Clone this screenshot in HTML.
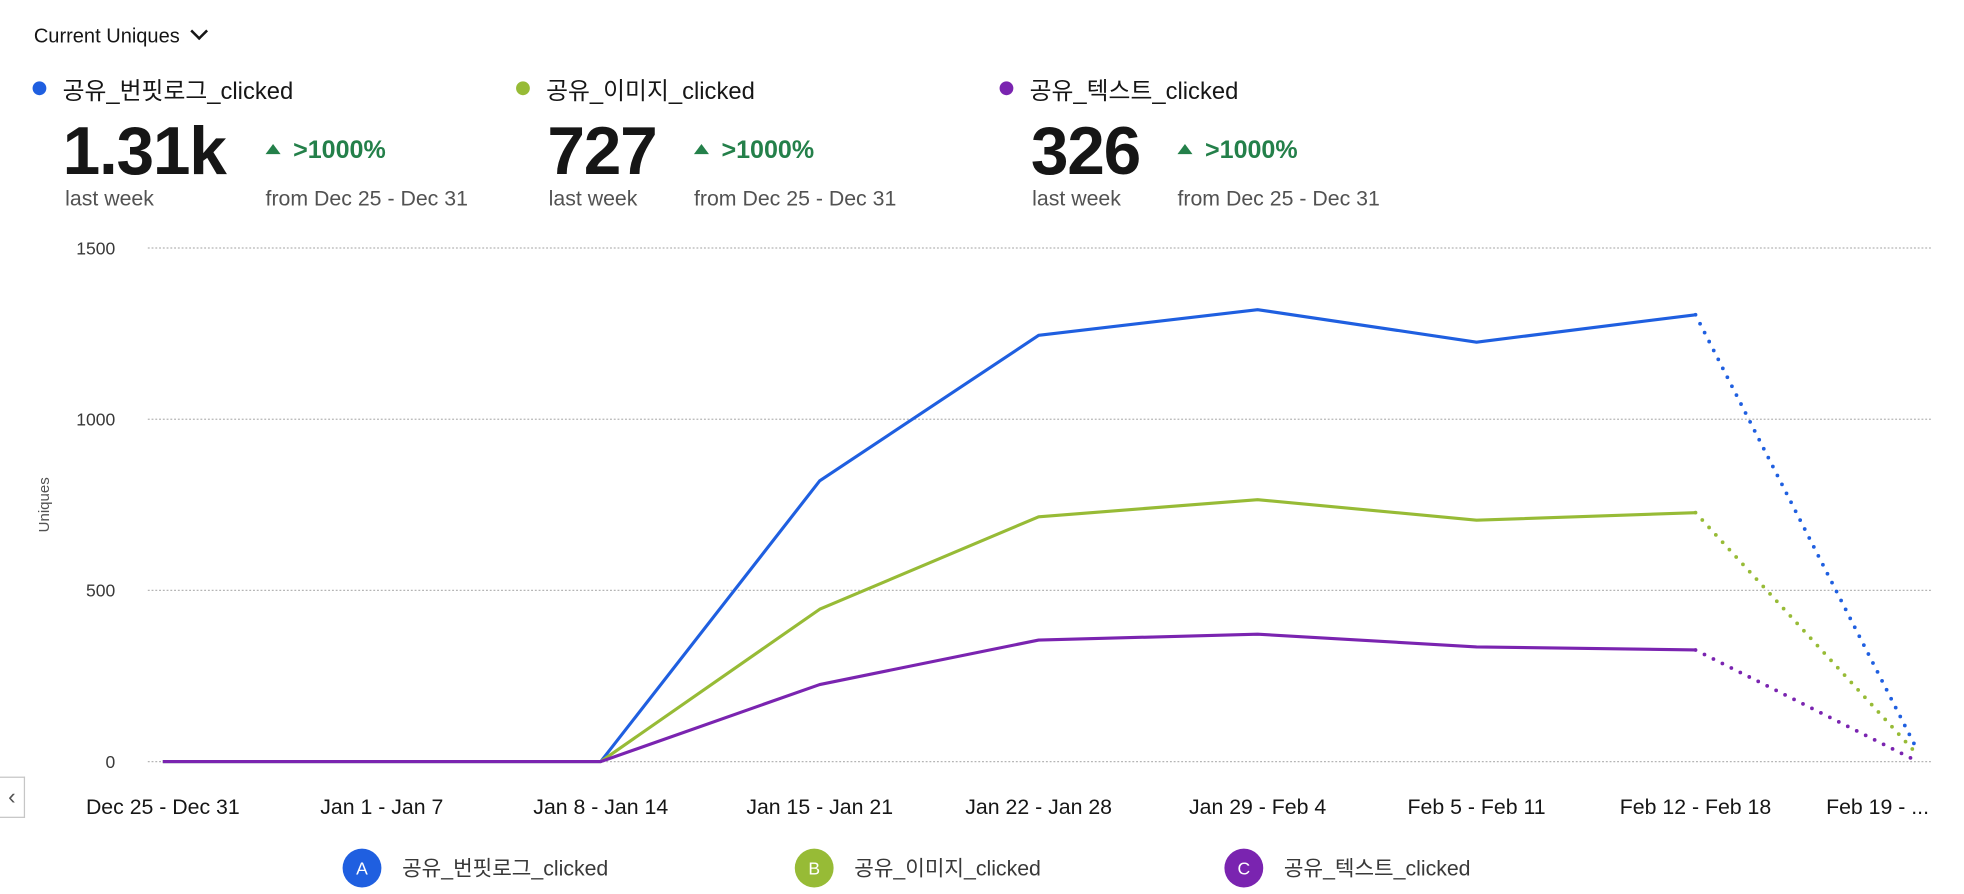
<!DOCTYPE html>
<html><head><meta charset="utf-8">
<style>
html,body{margin:0;padding:0;background:#fff;width:1964px;height:894px;overflow:hidden}
#wrap{position:absolute;left:0;top:0;width:1568px;height:714px;transform:scale(1.2526);transform-origin:0 0;font-family:"Liberation Sans","Noto Sans CJK KR",sans-serif;color:#161616}
.abs{position:absolute;white-space:nowrap}
.dot{position:absolute;width:11px;height:11px;border-radius:50%}
.big{font-size:54px;font-weight:bold;letter-spacing:-1px}
.sub{font-size:17px;color:#525252}
.pct{font-size:20px;font-weight:bold;color:#24804a}
.tri{display:inline-block;width:0;height:0;border-left:6px solid transparent;border-right:6px solid transparent;border-bottom:8px solid #24804a;margin-right:10px;vertical-align:3px}
.name{font-size:19px}
</style></head><body>
<div id="wrap">
<div class="abs" style="left:27px;top:20px;font-size:16px">Current Uniques <span style="display:inline-block;width:8px;height:8px;border-right:2px solid #161616;border-bottom:2px solid #161616;transform:rotate(45deg);margin-left:6px;vertical-align:4px"></span></div>

<div>
<div class="dot" style="left:26px;top:65px;background:#1f5fe0"></div>
<div class="abs name" style="left:50px;top:58px">공유_번핏로그_clicked</div>
<div class="abs big" style="left:50px;top:90px">1.31k</div>
<div class="abs pct" style="left:212px;top:109px"><span class="tri"></span>&gt;1000%</div>
<div class="abs sub" style="left:52px;top:149px">last week</div>
<div class="abs sub" style="left:212px;top:149px">from Dec 25 - Dec 31</div>
</div>
<div>
<div class="dot" style="left:412px;top:65px;background:#97bb36"></div>
<div class="abs name" style="left:436px;top:58px">공유_이미지_clicked</div>
<div class="abs big" style="left:437px;top:90px">727</div>
<div class="abs pct" style="left:554px;top:109px"><span class="tri"></span>&gt;1000%</div>
<div class="abs sub" style="left:438px;top:149px">last week</div>
<div class="abs sub" style="left:554px;top:149px">from Dec 25 - Dec 31</div>
</div>
<div>
<div class="dot" style="left:798px;top:65px;background:#7a24b0"></div>
<div class="abs name" style="left:822px;top:58px">공유_텍스트_clicked</div>
<div class="abs big" style="left:823px;top:90px">326</div>
<div class="abs pct" style="left:940px;top:109px"><span class="tri"></span>&gt;1000%</div>
<div class="abs sub" style="left:824px;top:149px">last week</div>
<div class="abs sub" style="left:940px;top:149px">from Dec 25 - Dec 31</div>
</div>

<div class="abs" style="left:0;top:620px;width:19px;height:31px;border:1px solid #c6c6c6;border-left:none;font-size:18px;color:#525252;line-height:30px;text-align:center">‹</div>

<svg id="chart" class="abs" style="left:0;top:0" width="1568" height="714"></svg>
</div>
<script>
const categories=["Dec 25 - Dec 31","Jan 1 - Jan 7","Jan 8 - Jan 14","Jan 15 - Jan 21","Jan 22 - Jan 28","Jan 29 - Feb 4","Feb 5 - Feb 11","Feb 12 - Feb 18","Feb 19 - ..."];
const seriesA=[0,0,0,820,1245,1320,1225,1305,50];
const seriesB=[0,0,0,445,715,765,705,727,30];
const seriesC=[0,0,0,225,355,372,335,326,5];
const yTicks=[0,500,1000,1500];
const seriesNames=["공유_번핏로그_clicked","공유_이미지_clicked","공유_텍스트_clicked"];
const seriesLetters=["A","B","C"];
const colors=["#1f5fe0","#97bb36","#7a24b0"];
const NS="http://www.w3.org/2000/svg";
const svg=document.getElementById('chart');
function xScale(i){return 130+i*174.8;}
function yScale(v){return 608-v*(410/1500);}
function mk(t,a,p){const e=document.createElementNS(NS,t);for(const k in a)e.setAttribute(k,a[k]);(p||svg).appendChild(e);return e;}
yTicks.forEach(t=>{
  const l=mk('line',{x1:118,x2:1542,y1:yScale(t),y2:yScale(t),stroke:'#b5b5b5','stroke-width':1,'stroke-dasharray':'1.5,1.5'});
  
  
  const tx=mk('text',{x:92,y:yScale(t)+5,'text-anchor':'end','font-size':14,fill:'#393939'});
  tx.textContent=t;
  
  
});
const yt=mk('text',{x:0,y:0,transform:'translate(39,403) rotate(-90)','text-anchor':'middle','font-size':12,fill:'#525252'});
yt.textContent='Uniques';


categories.forEach((c,i)=>{
  const last=i===categories.length-1;
  const tx=mk('text',{x:last?1540:xScale(i),y:650,'text-anchor':last?'end':'middle','font-size':17,fill:'#161616'});
  tx.textContent=c;
  
  
});
[seriesA,seriesB,seriesC].forEach((s,k)=>{
  const n=s.length;
  const pts=s.slice(0,n-1).map((v,i)=>xScale(i)+','+yScale(v)).join(' ');
  const pl=mk('polyline',{points:pts,fill:'none',stroke:colors[k],'stroke-width':2.5,'stroke-linejoin':'round'});
  
  
  const dl=mk('line',{x1:xScale(n-2),y1:yScale(s[n-2]),x2:xScale(n-1),y2:yScale(s[n-1]),stroke:colors[k],'stroke-width':3,'stroke-dasharray':'0,8','stroke-linecap':'round'});
  
  
});
const lx=[289,650,993];
seriesNames.forEach((nm,k)=>{
  const g=mk('g',{});
  
  
  mk('circle',{cx:lx[k],cy:693,r:15.5,fill:colors[k]},g);
  const l=mk('text',{x:lx[k],y:698,'text-anchor':'middle','font-size':14,fill:'#fff'},g);
  l.textContent=seriesLetters[k];
  const t=mk('text',{x:lx[k]+32,y:699,'font-size':17,fill:'#393939'},g);
  t.textContent=nm;
});
</script>
</body></html>
